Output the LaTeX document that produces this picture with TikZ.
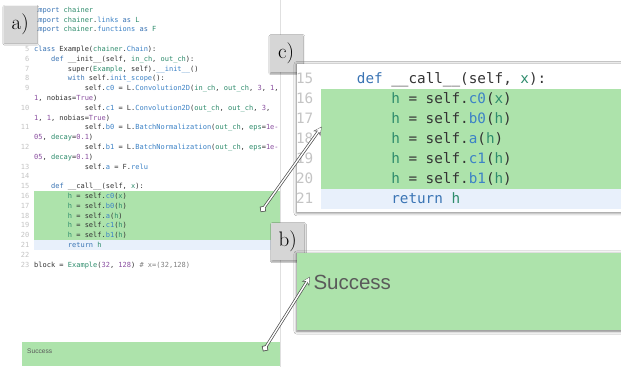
\documentclass[tikz,border=0pt]{standalone}
\usepackage{fontspec}
\newfontfamily\codefont{DejaVu Sans Mono}
\newfontfamily\uifont{Liberation Sans}
\usetikzlibrary{arrows.meta, shadows.blur}

\definecolor{hlgreen}{HTML}{ADE3AB}
\definecolor{hlblue}{HTML}{E8F0FB}
\definecolor{tagfill}{HTML}{D6D6D6}
\definecolor{codekw}{HTML}{3A74B4}
\definecolor{codenm}{HTML}{2E8C6C}
\definecolor{codeattr}{HTML}{3C82C6}
\definecolor{codenum}{HTML}{8A4FA0}
\definecolor{codetxt}{HTML}{333333}
\definecolor{codecmt}{HTML}{808080}
\definecolor{codelno}{HTML}{C4C4C4}
\definecolor{okgray}{HTML}{5A5A5A}

% syntax colours
\newcommand{\ckw}[1]{\textcolor{codekw}{#1}}
\newcommand{\cnm}[1]{\textcolor{codenm}{#1}}
\newcommand{\cattr}[1]{\textcolor{codeattr}{#1}}
\newcommand{\cnum}[1]{\textcolor{codenum}{#1}}
\newcommand{\ccmt}[1]{\textcolor{codecmt}{#1}}

\begin{document}
\begin{tikzpicture}[
    % one unit is one pixel of the screenshot, y grows downwards
    x=1pt, y=-1pt,
    code/.style={anchor=base west, inner sep=0pt, text=codetxt, font=\codefont\fontsize{7}{8}\selectfont},
    lno/.style={anchor=base east, inner sep=0pt, text=codelno, font=\codefont\fontsize{7}{8}\selectfont},
    bigcode/.style={code, font=\codefont\fontsize{14.3}{16}\selectfont},
    biglno/.style={lno, font=\codefont\fontsize{14.3}{16}\selectfont},
    band/.style={anchor=north west, inner sep=0pt, draw=none},
    tag/.style={anchor=north west, fill=tagfill, inner sep=0pt, minimum width=33pt, minimum height=37pt,
        font=\fontsize{21}{24}\selectfont,
        blur shadow={shadow xshift=0.6pt, shadow yshift=-1pt, shadow blur radius=1.5pt, shadow opacity=45}},
    panel/.style={anchor=north west, inner sep=0pt, minimum width=330pt,
        blur shadow={shadow xshift=0pt, shadow yshift=-1pt, shadow blur radius=3pt, shadow opacity=55}},
    callout/.style={draw=white, line width=1.4pt, {Circle[length=5pt]}-{Stealth[length=6pt,width=6pt]},
        shorten >=0.9pt, shorten <=0.8pt,
        preaction={draw=black!70, line width=2.8pt, {Circle[length=6.6pt]}-{Stealth[length=8.5pt,width=8.5pt]},
        shorten >=0pt, shorten <=0pt}}
]
\useasboundingbox (0,0) rectangle (621,367);
\fill[white] (0,0) rectangle (621,367);

%% ── Editor (left) ───────────────────────────────────────────
\node[band, fill=hlgreen, minimum width=245.5pt, minimum height=49pt] (hlleft) at (34,191.2) {};
\node[band, fill=hlblue, minimum width=245.5pt, minimum height=9.8pt] (retleft) at (34,240.2) {};
\draw[black!12] (280,0) -- (280,367);

% numbers 1--4 sit under the a) tag
\foreach \n/\r in {5/4,6/5,7/6,8/7,9/8,10/10,11/12,12/14,13/16,14/17,15/18,
                   16/19,17/20,18/21,19/22,20/23,21/24,22/25,23/26}
    \node[lno] (n\n) at (29.5,{12.3+9.8*\r}) {\n};

\node[code] (c1) at (34,12.3) {\ckw{import} \cnm{chainer}};
\node[code] (c2) at (34,22.1) {\ckw{import} \cnm{chainer}.\cattr{links} \ckw{as} \cnm{L}};
\node[code] (c3) at (34,31.9) {\ckw{import} \cnm{chainer}.\cattr{functions} \ckw{as} \cnm{F}};
\node[code] (c5) at (34,51.5) {\ckw{class} Example(\cnm{chainer}.\cattr{Chain}):};
\node[code] (c6) at (50.9,61.3) {\ckw{def} \_\_init\_\_(self, \cnm{in\_ch}, \cnm{out\_ch}):};
\node[code] (c7) at (67.7,71.1) {super(\cnm{Example}, self).\cattr{\_\_init\_\_}()};
\node[code] (c8) at (67.7,80.9) {\ckw{with} self.\cattr{init\_scope}():};
\node[code] (c9) at (84.6,90.7) {self.\cattr{c0} = L.\cattr{Convolution2D}(\cnm{in\_ch}, \cnm{out\_ch}, \cnum{3}, \cnum{1},};
\node[code] (w9) at (34,100.5) {\cnum{1}, nobias=\cnum{True})};
\node[code] (c10) at (84.6,110.3) {self.\cattr{c1} = L.\cattr{Convolution2D}(\cnm{out\_ch}, \cnm{out\_ch}, \cnum{3},};
\node[code] (w10) at (34,120.1) {\cnum{1}, \cnum{1}, nobias=\cnum{True})};
\node[code] (c11) at (84.6,129.9) {self.\cattr{b0} = L.\cattr{BatchNormalization}(\cnm{out\_ch}, \cnm{eps}=\cnum{1e-}};
\node[code] (w11) at (34,139.7) {\cnum{05}, \cnm{decay}=\cnum{0.1})};
\node[code] (c12) at (84.6,149.5) {self.\cattr{b1} = L.\cattr{BatchNormalization}(\cnm{out\_ch}, \cnm{eps}=\cnum{1e-}};
\node[code] (w12) at (34,159.3) {\cnum{05}, \cnm{decay}=\cnum{0.1})};
\node[code] (c13) at (84.6,169.1) {self.\cattr{a} = F.\cattr{relu}};
\node[code] (c15) at (50.9,188.7) {\ckw{def} \_\_call\_\_(self, \cnm{x}):};
\node[code] (c16) at (67.7,198.5) {\cnm{h} = self.\cattr{c0}(\cnm{x})};
\node[code] (c17) at (67.7,208.3) {\cnm{h} = self.\cattr{b0}(\cnm{h})};
\node[code] (c18) at (67.7,218.1) {\cnm{h} = self.\cattr{a}(\cnm{h})};
\node[code] (c19) at (67.7,227.9) {\cnm{h} = self.\cattr{c1}(\cnm{h})};
\node[code] (c20) at (67.7,237.7) {\cnm{h} = self.\cattr{b1}(\cnm{h})};
\node[code] (c21) at (67.7,247.5) {\ckw{return} \cnm{h}};
\node[code] (c23) at (34,267.1) {block = \cnm{Example}(\cnum{32}, \cnum{128}) \ccmt{\# x=(32,128)}};

% output bar of the editor
\node[band, fill=hlgreen, minimum width=258pt, minimum height=24pt] (outleft) at (22,341.7) {};
\node[anchor=west, inner sep=0pt, text=okgray, font=\uifont\fontsize{6.6}{8}\selectfont] (okleft) at (27,351.5) {Success};

%% ── Tags ────────────────────────────────────────────────────
\node[tag] (taga) at (3.5,5.5) {a)};
\node[tag] (tagc) at (269.5,35) {c)};
\node[tag] (tagb) at (271,223) {b)};

%% ── Zoom c) ─────────────────────────────────────────────────
\node[panel, fill=white, minimum height=148.4pt] (zoomc) at (296.7,63.3) {};
\node[band, fill=hlgreen, minimum width=305pt, minimum height=100pt] (hlc) at (321,88.3) {};
\node[band, fill=hlblue, minimum width=305pt, minimum height=20pt] (retc) at (321,188.3) {};

\foreach \n/\r in {15/0,16/1,17/2,18/3,19/4,20/5,21/6}
    \node[biglno] (zn\n) at (313.5,{83.3+20*\r}) {\n};

\node[bigcode] (z15) at (356.7,83.3) {\ckw{def} \_\_call\_\_(self, \cnm{x}):};
\node[bigcode] (z16) at (391.1,103.3) {\cnm{h} = self.\cattr{c0}(\cnm{x})};
\node[bigcode] (z17) at (391.1,123.3) {\cnm{h} = self.\cattr{b0}(\cnm{h})};
\node[bigcode] (z18) at (391.1,143.3) {\cnm{h} = self.\cattr{a}(\cnm{h})};
\node[bigcode] (z19) at (391.1,163.3) {\cnm{h} = self.\cattr{c1}(\cnm{h})};
\node[bigcode] (z20) at (391.1,183.3) {\cnm{h} = self.\cattr{b1}(\cnm{h})};
\node[bigcode] (z21) at (391.1,203.3) {\ckw{return} \cnm{h}};

%% ── Zoom b) ─────────────────────────────────────────────────
\node[panel, fill=hlgreen, minimum height=77.3pt] (outb) at (296.7,252.7) {};
\node[anchor=base west, inner sep=0pt, text=okgray, font=\uifont\fontsize{20.5}{24}\selectfont] (okb) at (313.3,289) {Success};

%% ── Callouts ────────────────────────────────────────────────
\coordinate (fromc) at (261,211.7);
\coordinate (toc) at (321.7,126.7);
\coordinate (fromb) at (263.3,351);
\coordinate (tob) at (310,276.7);

\draw[callout] (fromc) -- (toc);
\draw[callout] (fromb) -- (tob);

\end{tikzpicture}
\end{document}
